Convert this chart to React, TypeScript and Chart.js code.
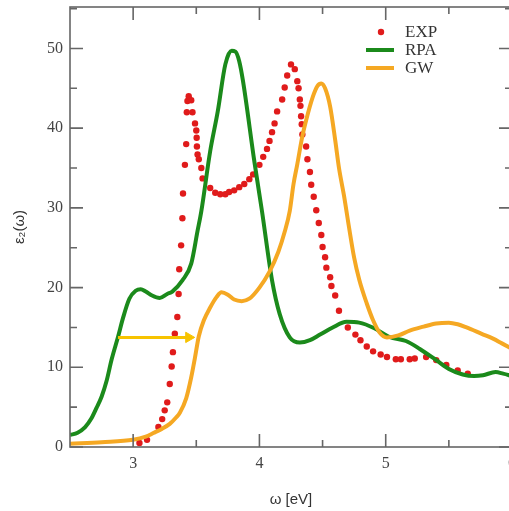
import React, { useEffect, useRef } from "react";
import { Chart, registerables } from "chart.js";
Chart.register(...registerables);

// ---- data ----
const expX = [3.05, 3.11, 3.2, 3.23, 3.25, 3.27, 3.29, 3.305, 3.315, 3.33, 3.35, 3.36, 3.365, 3.38, 3.39, 3.395, 3.41, 3.42, 3.425, 3.43, 3.44, 3.46, 3.47, 3.49, 3.5, 3.503, 3.505, 3.51, 3.52, 3.54, 3.55, 3.61, 3.65, 3.69, 3.73, 3.76, 3.8, 3.84, 3.88, 3.92, 3.95, 4.0, 4.03, 4.06, 4.08, 4.1, 4.12, 4.14, 4.18, 4.2, 4.22, 4.25, 4.28, 4.3, 4.31, 4.32, 4.325, 4.33, 4.335, 4.34, 4.37, 4.38, 4.4, 4.41, 4.43, 4.45, 4.47, 4.49, 4.5, 4.52, 4.53, 4.56, 4.57, 4.6, 4.63, 4.7, 4.76, 4.8, 4.85, 4.9, 4.96, 5.01, 5.08, 5.12, 5.19, 5.23, 5.32, 5.4, 5.48, 5.57, 5.65];
const expY = [0.5, 0.9, 2.5, 3.5, 4.6, 5.6, 7.9, 10.1, 11.9, 14.2, 16.3, 19.2, 22.3, 25.3, 28.7, 31.8, 35.4, 38.0, 42.0, 43.4, 44.0, 43.5, 42.0, 40.6, 39.7, 38.8, 37.7, 36.7, 36.1, 35.0, 33.7, 32.5, 31.9, 31.7, 31.7, 32.0, 32.2, 32.6, 33.0, 33.6, 34.2, 35.4, 36.4, 37.4, 38.4, 39.5, 40.6, 42.1, 43.6, 45.1, 46.6, 48.0, 47.4, 45.9, 45.0, 43.6, 42.8, 41.5, 40.5, 39.2, 37.7, 36.1, 34.5, 32.9, 31.4, 29.7, 28.1, 26.6, 25.1, 23.8, 22.5, 21.3, 20.2, 19.0, 17.1, 15.0, 14.1, 13.4, 12.6, 12.0, 11.6, 11.3, 11.0, 11.0, 11.0, 11.1, 11.3, 10.9, 10.3, 9.6, 9.2];

const rpaX = [2.5, 2.56, 2.62, 2.67, 2.71, 2.75, 2.79, 2.83, 2.88, 2.92, 2.97, 3.02, 3.06, 3.1, 3.15, 3.21, 3.27, 3.31, 3.39, 3.46, 3.51, 3.54, 3.61, 3.67, 3.73, 3.78, 3.81, 3.84, 3.87, 3.96, 4.02, 4.1, 4.16, 4.24, 4.32, 4.4, 4.48, 4.58, 4.69, 4.79, 4.91, 5.03, 5.16, 5.27, 5.4, 5.5, 5.61, 5.7, 5.77, 5.87, 5.93, 6.0];
const rpaY = [1.5, 1.8, 2.5, 3.6, 4.9, 6.3, 8.3, 11.0, 13.8, 16.2, 18.6, 19.6, 19.8, 19.5, 19.0, 18.7, 19.2, 19.5, 20.9, 23.0, 27.1, 29.6, 37.1, 42.1, 48.0, 49.7, 49.6, 48.4, 45.9, 35.8, 29.6, 20.9, 16.7, 13.75, 13.1, 13.4, 14.1, 15.0, 15.7, 15.6, 14.9, 13.8, 13.3, 12.3, 10.9, 9.8, 9.1, 8.9, 9.0, 9.4, 9.2, 8.9];

const gwX = [2.5, 2.75, 3.0, 3.1, 3.16, 3.23, 3.29, 3.34, 3.37, 3.42, 3.46, 3.49, 3.52, 3.56, 3.61, 3.66, 3.7, 3.75, 3.8, 3.86, 3.92, 4.0, 4.08, 4.15, 4.2, 4.24, 4.27, 4.3, 4.34, 4.37, 4.42, 4.46, 4.49, 4.52, 4.56, 4.6, 4.63, 4.67, 4.71, 4.75, 4.79, 4.85, 4.9, 4.95, 5.01, 5.1, 5.19, 5.3, 5.4, 5.5, 5.57, 5.64, 5.76, 5.85, 5.92, 6.0];
const gwY = [0.4, 0.6, 0.9, 1.3, 1.75, 2.3, 2.9, 3.7, 4.3, 6.1, 8.75, 11.25, 13.9, 15.9, 17.5, 18.8, 19.4, 19.1, 18.5, 18.3, 18.6, 20.0, 22.0, 24.5, 27.0, 29.6, 33.0, 35.5, 39.0, 41.0, 43.8, 45.3, 45.6, 45.0, 42.7, 38.5, 35.0, 31.5, 27.5, 23.75, 21.0, 18.0, 15.9, 14.4, 13.75, 14.0, 14.6, 15.1, 15.5, 15.6, 15.4, 15.0, 14.2, 13.6, 13.0, 12.3];

const arrowX = [2.88, 3.44];
const arrowY = [13.75, 13.75];

const xMajorTicks = [3, 4, 5, 6];
const xMinorTicks = [3.5, 4.5, 5.5];
const yMajorTicks = [0, 10, 20, 30, 40, 50];
const yMinorTicks = [5, 15, 25, 35, 45, 55];

const seriesLabels = ["EXP", "RPA", "GW"];
const xTitle = "ω [eV]";
const yTitle = "ε₂(ω)";

const RED = "#e01b1b";
const GREEN = "#1b8a1b";
const ORANGE = "#f5a823";
const ARROW = "#f7c300";
const AXIS = "#666666";

const toXY = (xs: number[], ys: number[]) => xs.map((x, i) => ({ x, y: ys[i] }));

const frameTicksPlugin = {
  id: "frameTicks",
  afterDraw(chart: any) {
    const { ctx, chartArea } = chart;
    const { left, right, top, bottom } = chartArea;
    const xs = chart.scales.x;
    const ys = chart.scales.y;
    ctx.save();
    ctx.strokeStyle = AXIS;
    ctx.lineWidth = 1.6;
    ctx.strokeRect(left, top, right - left, bottom - top);
    const drawX = (v: number, len: number) => {
      const p = xs.getPixelForValue(v);
      ctx.beginPath();
      ctx.moveTo(p, bottom);
      ctx.lineTo(p, bottom - len);
      ctx.moveTo(p, top);
      ctx.lineTo(p, top + len);
      ctx.stroke();
    };
    const drawY = (v: number, len: number) => {
      const p = ys.getPixelForValue(v);
      ctx.beginPath();
      ctx.moveTo(left, p);
      ctx.lineTo(left + len, p);
      ctx.moveTo(right, p);
      ctx.lineTo(right - len, p);
      ctx.stroke();
    };
    xMajorTicks.forEach((v) => drawX(v, 13));
    xMinorTicks.forEach((v) => drawX(v, 7));
    yMajorTicks.forEach((v) => drawY(v, 13));
    yMinorTicks.forEach((v) => drawY(v, 7));

    // legend
    const ds = chart.data.datasets;
    ctx.font = "17px 'Liberation Serif', 'DejaVu Serif', serif";
    ctx.textBaseline = "middle";
    const rows = [32, 50, 68];
    for (let i = 0; i < 3; i++) {
      const yy = rows[i];
      if (i === 0) {
        ctx.beginPath();
        ctx.fillStyle = ds[0].backgroundColor;
        ctx.arc(381, yy, 3.2, 0, Math.PI * 2);
        ctx.fill();
      } else {
        ctx.strokeStyle = ds[i].borderColor;
        ctx.lineWidth = 4;
        ctx.beginPath();
        ctx.moveTo(366, yy);
        ctx.lineTo(394, yy);
        ctx.stroke();
      }
      ctx.fillStyle = "#333";
      ctx.fillText(ds[i].label, 405, yy + 1);
    }
    ctx.restore();
  },
};

export default function App() {
  const ref = useRef<HTMLCanvasElement | null>(null);
  useEffect(() => {
    document.body.style.margin = "0";
    const canvas = ref.current!;
    const chart = new Chart(canvas, {
      type: "line",
      data: {
        datasets: [
          {
            label: seriesLabels[0],
            data: toXY(expX, expY),
            showLine: false,
            pointRadius: 3.2,
            pointBackgroundColor: RED,
            pointBorderWidth: 0,
            backgroundColor: RED,
            borderColor: RED,
            order: 4,
          },
          {
            label: seriesLabels[1],
            data: toXY(rpaX, rpaY),
            borderColor: GREEN,
            borderWidth: 4,
            pointRadius: 0,
            cubicInterpolationMode: "monotone",
            order: 3,
          },
          {
            label: seriesLabels[2],
            data: toXY(gwX, gwY),
            borderColor: ORANGE,
            borderWidth: 4,
            pointRadius: 0,
            cubicInterpolationMode: "monotone",
            order: 2,
          },
          {
            label: "shift",
            data: toXY(arrowX, arrowY),
            borderColor: ARROW,
            borderWidth: 3,
            pointRadius: [0, 6],
            pointStyle: "triangle",
            rotation: 90,
            pointBackgroundColor: ARROW,
            pointBorderColor: ARROW,
            pointBorderWidth: 1,
            order: 1,
          },
        ] as any,
      },
      options: {
        animation: false,
        responsive: false,
        maintainAspectRatio: false,
        layout: { padding: { left: 0, top: 5, right: 28, bottom: 0 } },
        plugins: { legend: { display: false }, tooltip: { enabled: false } },
        scales: {
          x: {
            type: "linear",
            min: 2.5,
            max: 6,
            grid: { display: false, drawTicks: false },
            border: { display: false },
            ticks: {
              stepSize: 1,
              includeBounds: false,
              padding: 7,
              color: "#444",
              font: { family: "'Liberation Serif', serif", size: 16 },
            },
            title: {
              display: true,
              text: xTitle,
              color: "#333",
              padding: { top: 0, bottom: 2 },
              font: { family: "'Liberation Sans', 'DejaVu Sans', sans-serif", size: 15 },
            },
            afterFit: (s: any) => {
              s.height = 64;
              s.paddingLeft = 0;
              s.paddingRight = 0;
            },
          },
          y: {
            type: "linear",
            min: 0,
            max: 55.2,
            grid: { display: false, drawTicks: false },
            border: { display: false },
            ticks: {
              stepSize: 10,
              includeBounds: false,
              padding: 7,
              color: "#444",
              font: { family: "'Liberation Serif', serif", size: 16 },
            },
            title: {
              display: true,
              text: yTitle,
              color: "#333",
              padding: { top: 11, bottom: 0 },
              font: { family: "'Liberation Sans', 'DejaVu Sans', sans-serif", size: 15 },
            },
            afterFit: (s: any) => {
              s.width = 70;
              s.paddingTop = 0;
              s.paddingBottom = 0;
            },
          },
        },
      } as any,
      plugins: [frameTicksPlugin],
    });
    return () => chart.destroy();
  }, []);
  return (
    <div style={{ position: "fixed", left: 0, top: 0, width: 509, height: 511, overflow: "hidden", background: "#fff" }}>
      <canvas ref={ref} width={540} height={511} style={{ width: 540, height: 511, display: "block" }} />
    </div>
  );
}
